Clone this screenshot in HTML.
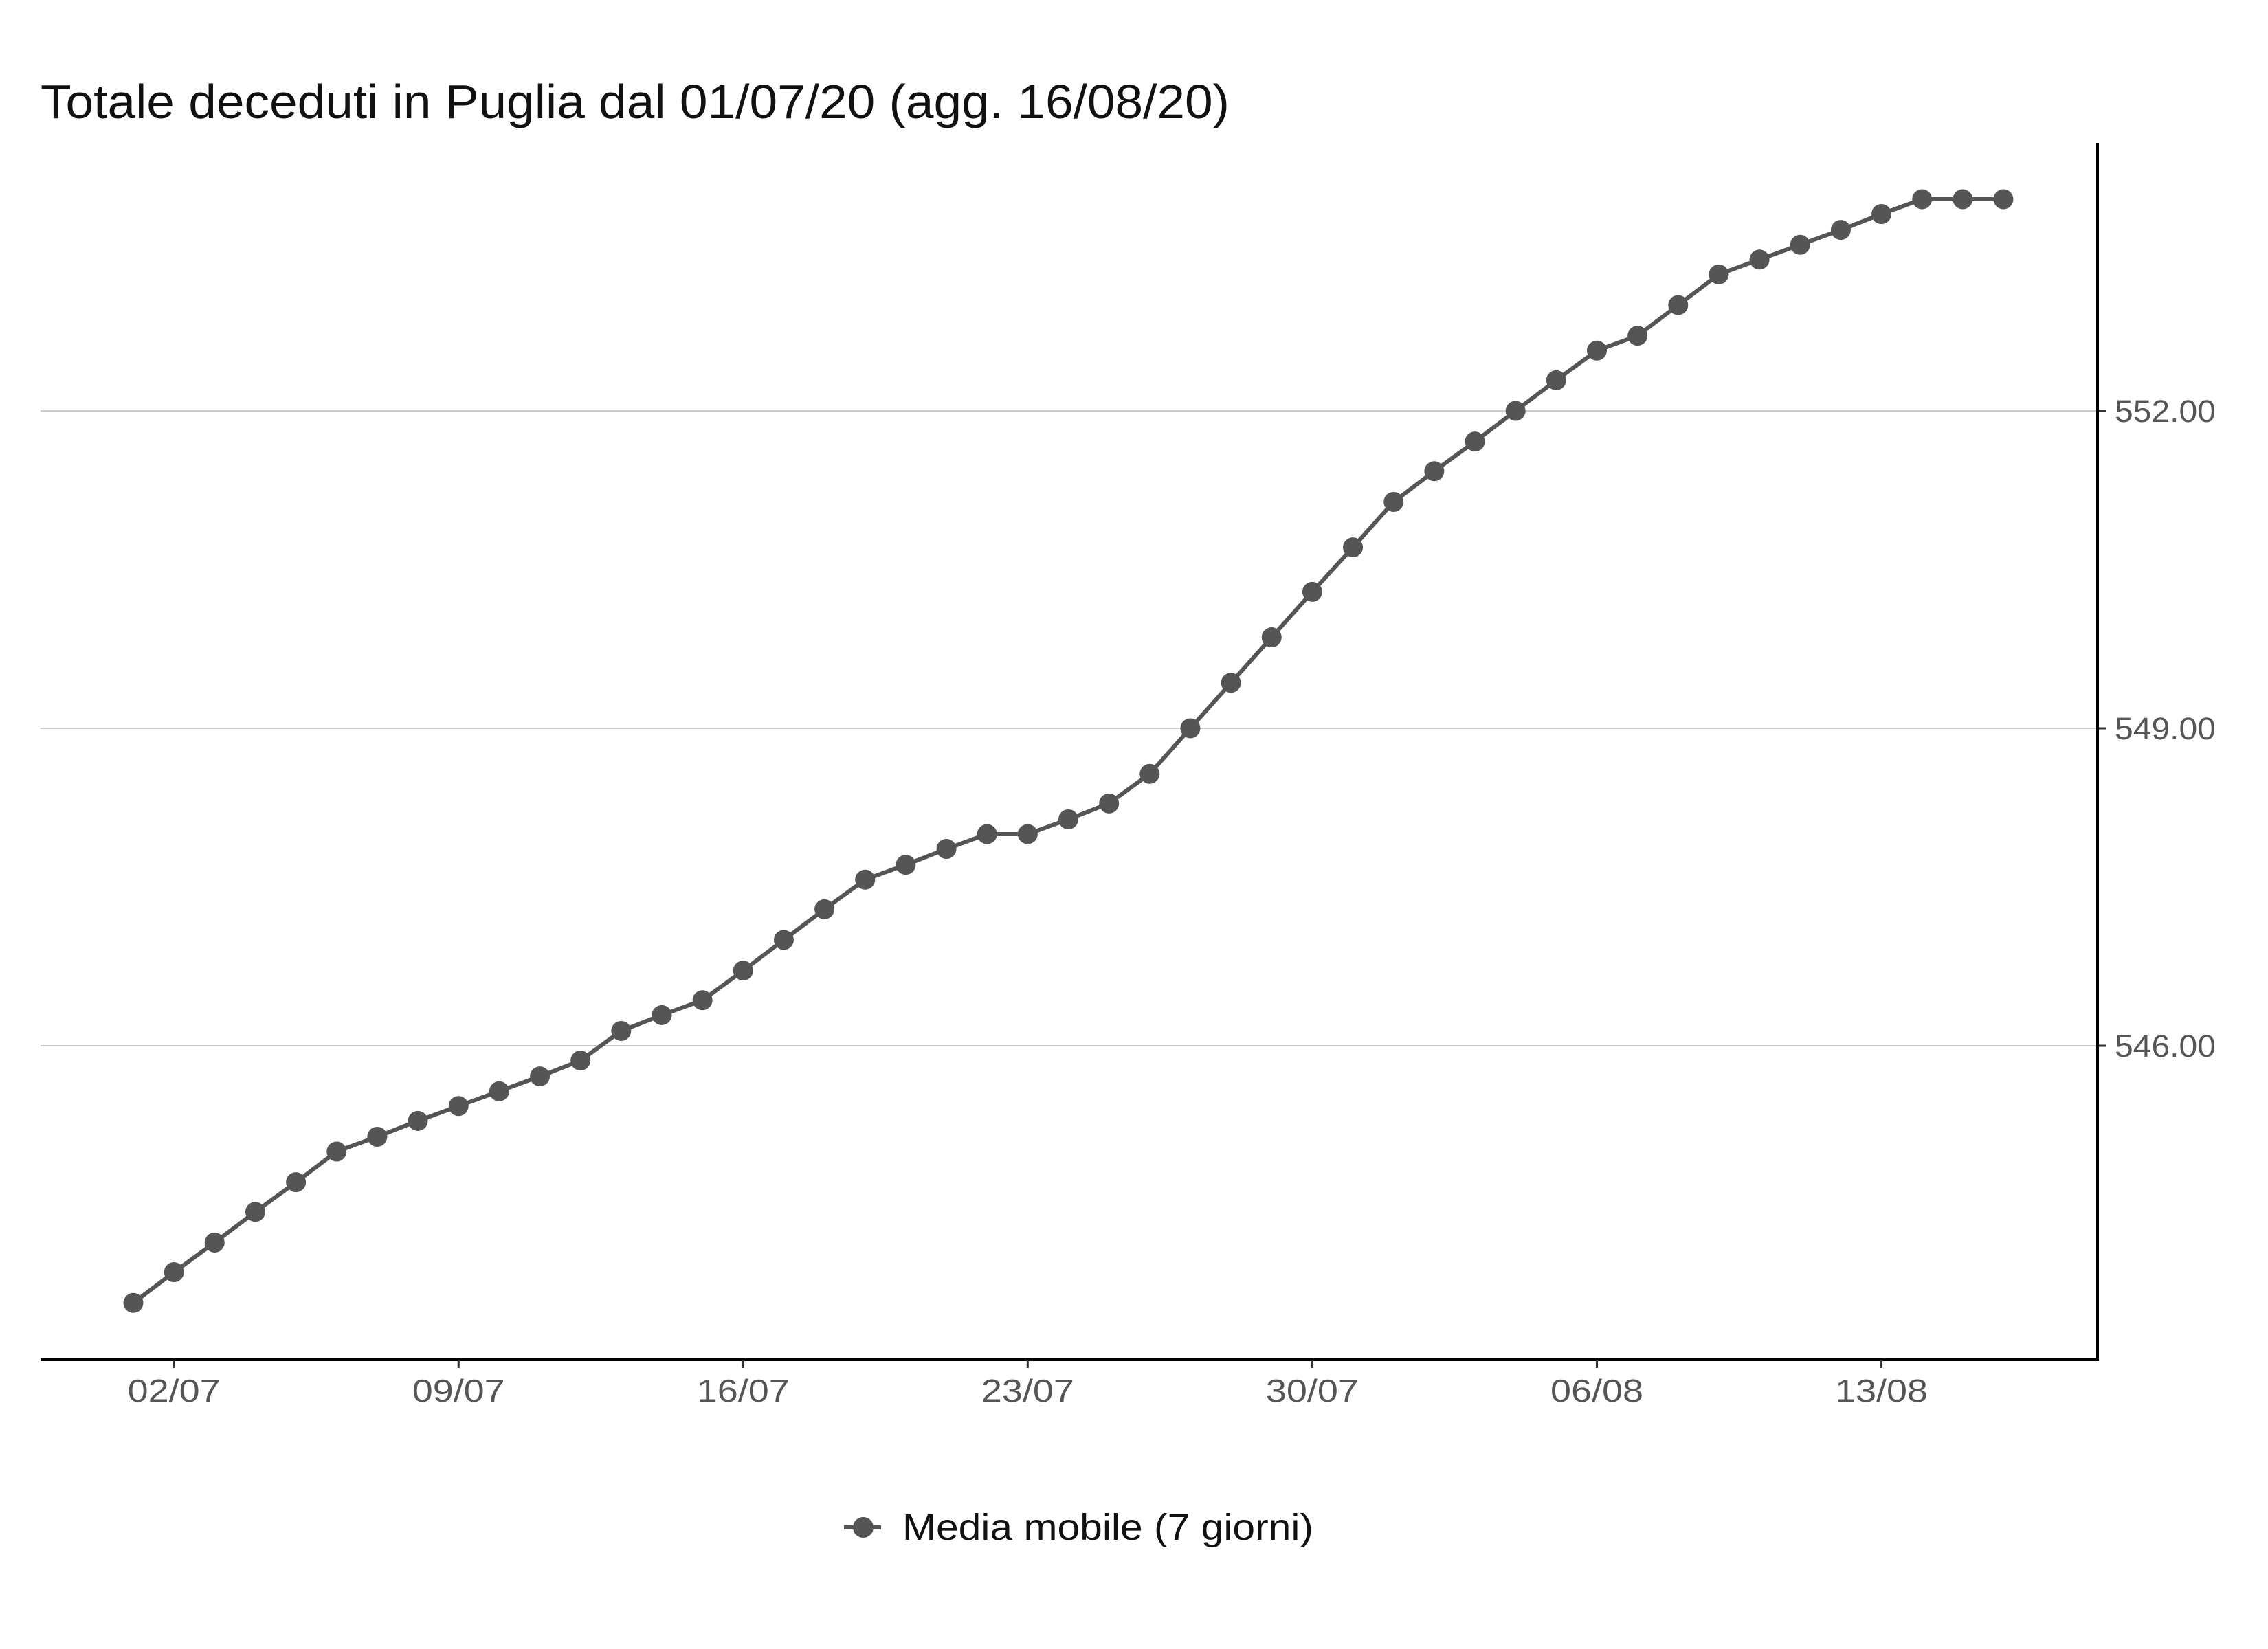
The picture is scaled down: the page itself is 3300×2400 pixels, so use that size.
<!DOCTYPE html>
<html><head><meta charset="utf-8"><style>
html,body{margin:0;padding:0;background:#fff;}
svg{display:block;font-family:"Liberation Sans",sans-serif;}
</style></head><body>
<svg id="chart" width="3300" height="2400" viewBox="0 0 3300 2400" xmlns="http://www.w3.org/2000/svg">
<text x="59" y="172" font-size="70" fill="#111" textLength="1730" lengthAdjust="spacingAndGlyphs">Totale deceduti in Puglia dal 01/07/20 (agg. 16/08/20)</text>
<g id="grid"></g>
<g id="axes"></g>
<g id="series"></g>
<g>
<line x1="1228" y1="2223" x2="1282" y2="2223" stroke="#555" stroke-width="6"/>
<circle cx="1256" cy="2223" r="15" fill="#555"/>
<text x="1313" y="2241" font-size="54" fill="#111" textLength="598" lengthAdjust="spacingAndGlyphs">Media mobile (7 giorni)</text>
</g>
</svg>
<script>
const dayIndex = [0,1,2,3,4,5,6,7,8,9,10,11,12,13,14,15,16,17,18,19,20,21,22,23,24,25,26,27,28,29,30,31,32,33,34,35,36,37,38,39,40,41,42,43,44,45,46];
const values = [543.57,543.86,544.14,544.43,544.71,545.0,545.14,545.29,545.43,545.57,545.71,545.86,546.14,546.29,546.43,546.71,547.0,547.29,547.57,547.71,547.86,548.0,548.0,548.14,548.29,548.57,549.0,549.43,549.86,550.29,550.71,551.14,551.43,551.71,552.0,552.29,552.57,552.71,553.0,553.29,553.43,553.57,553.71,553.86,554.0,554.0,554.0];
const yTicks = [546,549,552];
const yTickLabels = ["546.00","549.00","552.00"];
const xTickDays = [1,8,15,22,29,36,43];
const xTickLabels = ["02/07","09/07","16/07","23/07","30/07","06/08","13/08"];

const NS = "http://www.w3.org/2000/svg";
const X0 = 59, X1 = 3052, Y0 = 208, Y1 = 1979;
function xScale(d){ return 194 + d * (2915 - 194) / 46; }
function yScale(v){ return 598 + (552 - v) * (1522 - 598) / 6; }
function mk(tag, attrs, parent){ const e = document.createElementNS(NS, tag); for (const k in attrs) e.setAttribute(k, attrs[k]); parent.appendChild(e); return e; }

const grid = document.getElementById('grid');
const axes = document.getElementById('axes');
const series = document.getElementById('series');

yTicks.forEach((t, i) => {
  const y = yScale(t);
  const g = mk('line', {x1: X0, x2: X1, y1: y, y2: y, stroke: '#cccccc', 'stroke-width': 2}, grid);
  
  
  mk('line', {x1: X1, x2: X1 + 12, y1: y, y2: y, stroke: '#333', 'stroke-width': 3}, axes);
  const tx = mk('text', {x: X1 + 25, y: y + 16, 'font-size': 45, fill: '#555', textLength: 147, lengthAdjust: 'spacingAndGlyphs'}, axes);
  tx.textContent = yTickLabels[i];
  
  
});

const ya = mk('line', {x1: X1, x2: X1, y1: Y0, y2: Y1 + 2, stroke: '#000', 'stroke-width': 4}, axes);


const xa = mk('line', {x1: X0, x2: X1 + 2, y1: Y1, y2: Y1, stroke: '#000', 'stroke-width': 4}, axes);



xTickDays.forEach((d, i) => {
  const x = xScale(d);
  mk('line', {x1: x, x2: x, y1: Y1, y2: Y1 + 12, stroke: '#333', 'stroke-width': 3}, axes);
  const tx = mk('text', {x: x, y: Y1 + 61, 'font-size': 46, fill: '#555', 'text-anchor': 'middle', textLength: 135, lengthAdjust: 'spacingAndGlyphs'}, axes);
  tx.textContent = xTickLabels[i];
  
  
});

const pts = dayIndex.map((d, i) => xScale(d) + ',' + yScale(values[i])).join(' ');
const pl = mk('polyline', {points: pts, fill: 'none', stroke: '#555', 'stroke-width': 6, 'stroke-linejoin': 'round'}, series);


dayIndex.forEach((d, i) => {
  const c = mk('circle', {cx: xScale(d), cy: yScale(values[i]), r: 14.5, fill: '#555'}, series);
  
  
});
</script>
</body></html>
